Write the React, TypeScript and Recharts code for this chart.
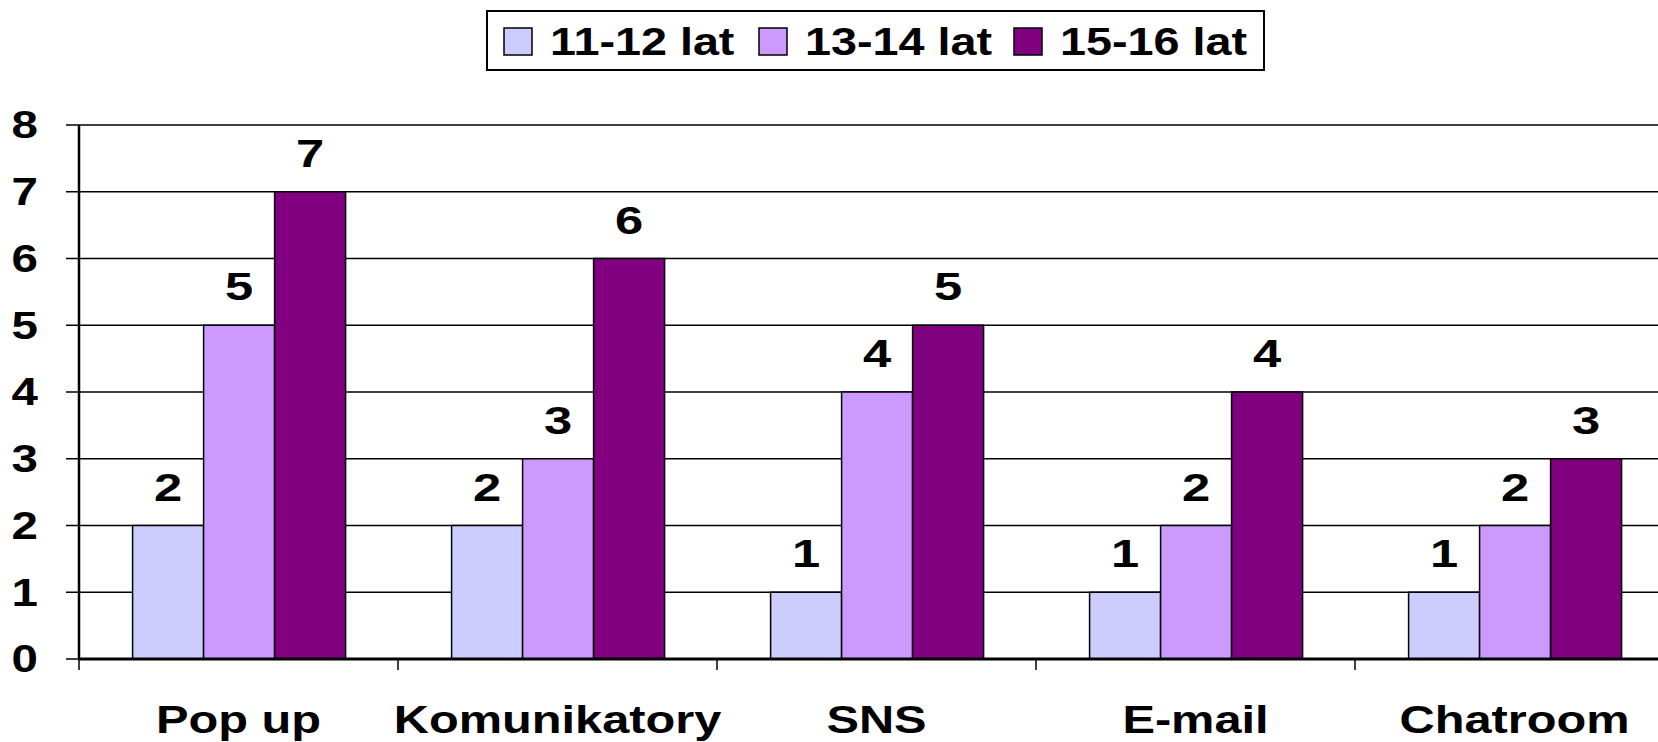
import React from 'react';
import { BarChart, Bar, XAxis, YAxis, CartesianGrid, LabelList } from 'recharts';

const categories = ['Pop up', 'Komunikatory', 'SNS', 'E-mail', 'Chatroom'];
const age1112 = [2, 2, 1, 1, 1];
const age1314 = [5, 3, 4, 2, 2];
const age1516 = [7, 6, 5, 4, 3];
const seriesNames = ['11-12 lat', '13-14 lat', '15-16 lat'];
const seriesColors = ['#CCCCFF', '#CC99FF', '#800080'];
const yTicks = [0, 1, 2, 3, 4, 5, 6, 7, 8];

const FONT = '"Liberation Sans", Arial, sans-serif';

const data = categories.map((name, i) => ({
  name,
  a: age1112[i],
  b: age1314[i],
  c: age1516[i],
}));

const YTick = (props: any) => {
  const { x, y, payload } = props;
  return (
    <text
      transform={`translate(${x},${y}) scale(1.25,1)`}
      textAnchor="end"
      dominantBaseline="central"
      fontFamily={FONT}
      fontWeight="bold"
      fontSize={38}
      fill="#000"
    >
      {payload.value}
    </text>
  );
};

const XTick = (props: any) => {
  const { x, y, payload } = props;
  const half = payload.offset || 159.5;
  return (
    <g>
      <line x1={x - half} x2={x - half} y1={y} y2={y + 11} stroke="#000" strokeWidth={1.5} />
      <text
        transform={`translate(${x},${y + 74}) scale(1.25,1)`}
        textAnchor="middle"
        fontFamily={FONT}
        fontWeight="bold"
        fontSize={39}
        fill="#000"
      >
        {payload.value}
      </text>
    </g>
  );
};

const ValueLabel = (props: any) => {
  const { x, y, width, value } = props;
  return (
    <text
      transform={`translate(${x + width / 2},${y - 25}) scale(1.3,1)`}
      textAnchor="middle"
      fontFamily={FONT}
      fontWeight="bold"
      fontSize={39}
      fill="#000"
    >
      {value}
    </text>
  );
};

const LegendBox = () => (
  <svg width={1658} height={80} style={{ position: 'absolute', left: 0, top: 0 }}>
    <rect x={487} y={11} width={777} height={59} fill="#fff" stroke="#000" strokeWidth={2} />
    {seriesNames.map((s, i) => {
      const sx = 504 + i * 255;
      return (
        <g key={s}>
          <rect x={sx} y={28} width={28} height={27} fill={seriesColors[i]} stroke="#000" strokeWidth={1.5} />
          <text
            transform={`translate(${sx + 46},55) scale(1.23,1)`}
            fontFamily={FONT}
            fontWeight="bold"
            fontSize={38}
            fill="#000"
          >
            {s}
          </text>
        </g>
      );
    })}
  </svg>
);

export default function App() {
  return (
    <div
      style={{
        position: 'absolute',
        left: 0,
        top: 0,
        width: 1658,
        height: 742,
        overflow: 'hidden',
        background: '#fff',
      }}
    >
      <BarChart
        width={1690}
        height={742}
        data={data}
        margin={{ top: 125, right: 16, bottom: 0, left: 0 }}
        barCategoryGap="16.8%"
        barGap={0}
      >
        <CartesianGrid vertical={false} stroke="#000" strokeWidth={1.5} />
        <XAxis
          dataKey="name"
          height={83}
          tickSize={0}
          tickMargin={0}
          tickLine={false}
          axisLine={{ stroke: '#000', strokeWidth: 3 }}
          tick={<XTick />}
          interval={0}
        />
        <YAxis
          width={79}
          domain={[0, 8]}
          ticks={yTicks}
          interval={0}
          tickSize={13}
          tickMargin={28}
          tickLine={{ stroke: '#000', strokeWidth: 1.5 }}
          axisLine={{ stroke: '#000', strokeWidth: 2.5 }}
          tick={<YTick />}
        />
        <Bar dataKey="a" name={seriesNames[0]} fill={seriesColors[0]} stroke="#000" strokeWidth={1.5} isAnimationActive={false}>
          <LabelList dataKey="a" content={<ValueLabel />} />
        </Bar>
        <Bar dataKey="b" name={seriesNames[1]} fill={seriesColors[1]} stroke="#000" strokeWidth={1.5} isAnimationActive={false}>
          <LabelList dataKey="b" content={<ValueLabel />} />
        </Bar>
        <Bar dataKey="c" name={seriesNames[2]} fill={seriesColors[2]} stroke="#000" strokeWidth={1.5} isAnimationActive={false}>
          <LabelList dataKey="c" content={<ValueLabel />} />
        </Bar>
      </BarChart>
      <LegendBox />
    </div>
  );
}
